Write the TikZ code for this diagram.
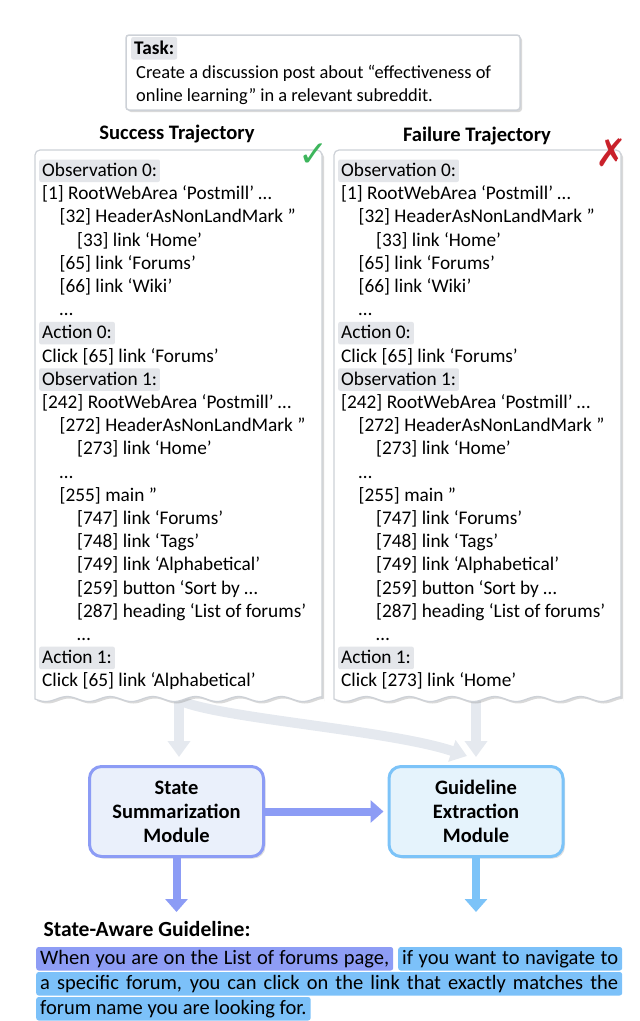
\documentclass[tikz,border=0pt]{standalone}
\usepackage{fontspec}
\setmainfont{Carlito}
\newfontfamily\symfont{DejaVu Sans}
\usetikzlibrary{arrows.meta,shadows}

\definecolor{hlgray}{HTML}{E4E6EA}
\definecolor{panelgray}{HTML}{CDD1D7}
\definecolor{arrowgray}{HTML}{E5E9EF}
\definecolor{ssmline}{HTML}{8C9CF5}
\definecolor{ssmfill}{HTML}{EAF0FB}
\definecolor{gemline}{HTML}{7CC3F8}
\definecolor{gemfill}{HTML}{E5F3FC}
\definecolor{hlpurple}{HTML}{8E9DF5}
\definecolor{hlblue}{HTML}{7CC1F9}
\definecolor{okgreen}{HTML}{3DB55C}
\definecolor{nogred}{HTML}{C9212B}

\begin{document}
\begin{tikzpicture}[x=1pt,y=-1pt]
	\tikzstyle{line}=[anchor=base west,inner xsep=3pt,inner ysep=1.5pt,text height=15.5pt,text depth=4pt,rounded corners=2pt,font=\fontsize{19.3}{23}\selectfont]
	\tikzstyle{lbl}=[line,fill=hlgray]
	\tikzstyle{txt}=[line]
	\tikzstyle{panel}=[draw=panelgray,line width=1.2pt,fill=white,drop shadow={shadow xshift=2pt,shadow yshift=-2pt,opacity=0.3}]
	\tikzstyle{title}=[font=\bfseries\fontsize{20.6}{24}\selectfont]
	\tikzstyle{module}=[rounded corners=12pt,line width=3pt,minimum width=174pt,minimum height=90pt,align=center,font=\bfseries\fontsize{20.5}{24}\selectfont,drop shadow={shadow xshift=2pt,shadow yshift=-2pt,opacity=0.25}]
	\tikzstyle{flow}=[draw=arrowgray,line width=10pt,-{Triangle[width=22pt,length=16pt]}]
	\tikzstyle{push}=[line width=8pt,-{Triangle[width=22pt,length=13pt]}]
	\tikzstyle{hl}=[anchor=base west,inner xsep=4pt,inner ysep=1.5pt,text height=15.5pt,text depth=5pt,rounded corners=2.5pt,font=\fontsize{20.5}{25}\selectfont]

	\useasboundingbox (0,0) rectangle (640,1021);

	% task
	\node[draw=panelgray,line width=1.5pt,minimum width=394pt,minimum height=75pt,rounded corners=3pt,drop shadow={shadow xshift=2pt,shadow yshift=-2pt,opacity=0.3},fill=white] (task) at (323,72.5) {};
	\node[lbl,font=\bfseries\fontsize{19.3}{23}\selectfont] (task-lbl) at (131,54) {Task:};
	\node[txt,font=\fontsize{18.4}{23}\selectfont] (task-1) at (133,78) {Create a discussion post about “effectiveness of};
	\node[txt,font=\fontsize{18.4}{23}\selectfont] (task-2) at (133,101) {online learning” in a relevant subreddit.};

	\node[title] (succ-title) at (177,134) {Success Trajectory};
	\node[title] (fail-title) at (477,136) {Failure Trajectory};

	% modules
	\node[module,draw=ssmline,fill=ssmfill] (ssm) at (176.5,811.5) {State\\Summarization\\Module};
	\node[module,draw=gemline,fill=gemfill] (gem) at (476,811.5) {Guideline\\Extraction\\Module};

	\coordinate (succ-bot) at (179,690);
	\coordinate (fail-bot) at (476,690);
	\coordinate (merge) at (467,756);
	\path[flow] (succ-bot) -- ++(0,10) .. controls (215,718) and (390,730) .. (merge);
	\path[flow,shorten >=8pt] (succ-bot) -- (succ-bot |- ssm.north);
	\path[flow,shorten >=8pt] (fail-bot) -- (fail-bot |- gem.north);

	% trajectories
	\foreach \name/\px/\last in {succ/0/{Click [65] link ‘Alphabetical’},fail/299/{Click [273] link ‘Home’}}{
		\draw[panel] (35+\px,699) [rounded corners=5pt] -- (35+\px,150) -- (322+\px,150) [sharp corners] -- (322+\px,699)
			-- plot[domain=322:35,samples=120] ({\x+\px},{699+2.5*sin((\x-35)*8.4)}) -- cycle;
		\foreach \n/\lvl/\kind/\txt in {0/0/lbl/{Observation 0:},1/0/txt/{[1] RootWebArea ‘Postmill’ …},2/1/txt/{[32] HeaderAsNonLandMark ”},
			3/2/txt/{[33] link ‘Home’},4/1/txt/{[65] link ‘Forums’},5/1/txt/{[66] link ‘Wiki’},6/1/txt/{…},
			7/0/lbl/{Action 0:},8/0/txt/{Click [65] link ‘Forums’},9/0/lbl/{Observation 1:},
			10/0/txt/{[242] RootWebArea ‘Postmill’ …},11/1/txt/{[272] HeaderAsNonLandMark ”},12/2/txt/{[273] link ‘Home’},
			13/1/txt/{…},14/1/txt/{[255] main ”},15/2/txt/{[747] link ‘Forums’},16/2/txt/{[748] link ‘Tags’},
			17/2/txt/{[749] link ‘Alphabetical’},18/2/txt/{[259] button ‘Sort by …},19/2/txt/{[287] heading ‘List of forums’},
			20/2/txt/{…},21/0/lbl/{Action 1:}}
			\node[\kind] (\name-\n) at (39+\px+17.5*\lvl,176.5+23.2*\n) {\txt};
		\node[txt] (\name-22) at (39+\px,176.5+23.2*22) {\last};
	}

	\node[text=okgreen,font=\symfont\fontsize{36}{36}\selectfont] (ok) at (314,155) {✓};
	\node[text=nogred,font=\symfont\fontsize{38}{38}\selectfont] (no) at (611,153) {✗};

	% guideline
	\coordinate (ssm-out) at (176.5,912);
	\coordinate (gem-out) at (476,912);
	\path[push,draw=ssmline,shorten >=4pt] (ssm) -- (gem);
	\path[push,draw=ssmline] (ssm) -- (ssm-out);
	\path[push,draw=gemline] (gem) -- (gem-out);

	\node[title,font=\bfseries\fontsize{21.6}{25}\selectfont,anchor=base west] (sag) at (40,936) {State-Aware Guideline:};
	\node[hl,fill=hlpurple] (g1a) at (36,964) {\makebox[349pt][s]{When you are on the List of forums page,}};
	\node[hl,fill=hlblue] (g1b) at (398,964) {\makebox[216pt][s]{if you want to navigate to}};
	\node[hl,fill=hlblue] (g2) at (36,989) {\makebox[578pt][s]{a specific forum, you can click on the link that exactly matches the}};
	\node[hl,fill=hlblue] (g3) at (36,1014) {forum name you are looking for.};
\end{tikzpicture}
\end{document}
